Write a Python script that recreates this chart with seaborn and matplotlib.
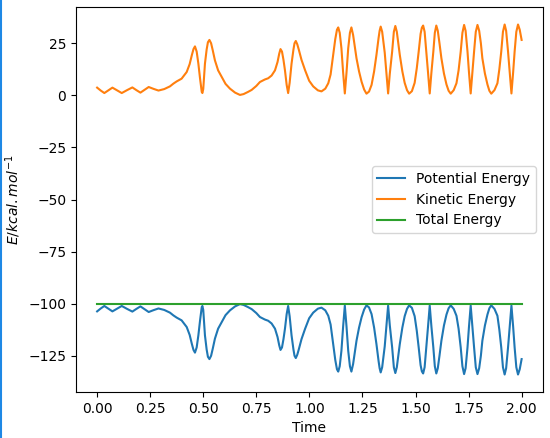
import seaborn as sns
import pandas as pd
import numpy as np
import matplotlib.pyplot as plt
from matplotlib.lines import Line2D

# values
time = [0.000, 0.017, 0.034, 0.053, 0.072, 0.094, 0.116, 0.141, 0.166, 0.185,
        0.204, 0.224, 0.243, 0.266, 0.289, 0.316, 0.343, 0.359, 0.375, 0.398,
        0.422, 0.436, 0.446, 0.454, 0.461, 0.469, 0.477, 0.485, 0.493, 0.496,
        0.500, 0.508, 0.516, 0.522, 0.529, 0.537, 0.545, 0.555, 0.570, 0.587,
        0.605, 0.626, 0.650, 0.673, 0.690, 0.710, 0.728, 0.750, 0.767, 0.790,
        0.806, 0.822, 0.838, 0.850, 0.858, 0.864, 0.871, 0.878, 0.885, 0.893,
        0.900, 0.907, 0.916, 0.925, 0.930, 0.936, 0.943, 0.950, 0.963, 0.980,
        0.999, 1.018, 1.040, 1.057, 1.075, 1.089, 1.100, 1.112, 1.122, 1.130,
        1.136, 1.143, 1.151, 1.159, 1.167, 1.175, 1.183, 1.191, 1.198, 1.206,
        1.214, 1.222, 1.234, 1.246, 1.258, 1.269, 1.281, 1.293, 1.305, 1.316,
        1.326, 1.331, 1.336, 1.343, 1.355, 1.363, 1.371, 1.379, 1.390, 1.398,
        1.405, 1.412, 1.426, 1.438, 1.449, 1.460, 1.470, 1.483, 1.496, 1.506,
        1.515, 1.524, 1.530, 1.536, 1.543, 1.551, 1.559, 1.567, 1.575, 1.584,
        1.591, 1.598, 1.605, 1.613, 1.622, 1.634, 1.646, 1.656, 1.666, 1.680,
        1.693, 1.703, 1.713, 1.721, 1.729, 1.736, 1.745, 1.752, 1.760, 1.768,
        1.776, 1.784, 1.792, 1.800, 1.808, 1.815, 1.827, 1.839, 1.848, 1.857,
        1.872, 1.886, 1.895, 1.904, 1.912, 1.920, 1.927, 1.936, 1.944, 1.952,
        1.960, 1.967, 1.975, 1.983, 1.991, 2.000]

kinetic = [3.7, 2.3, 1.1, 2.4, 3.7, 2.4, 1.1, 2.5, 3.8, 2.5,
           1.3, 2.7, 4.0, 3.1, 2.3, 3.0, 4.3, 5.6, 6.7, 8.0,
           11.2, 15.0, 19.2, 22.2, 23.5, 21.0, 15.2, 8.0, 1.6, 1.1,
           3.0, 15.2, 22.0, 25.5, 26.6, 25.0, 21.5, 16.8, 12.0, 8.8,
           5.5, 3.2, 1.3, 0.2, 0.6, 1.6, 2.6, 4.5, 6.4, 7.6,
           8.2, 9.5, 12.0, 16.0, 20.0, 22.2, 21.0, 17.0, 12.0, 5.0,
           1.1, 6.0, 15.2, 22.0, 25.0, 26.1, 24.5, 22.0, 17.0, 12.0,
           7.0, 4.3, 2.4, 1.9, 3.2, 5.8, 10.0, 19.4, 27.0, 31.5,
           32.6, 30.0, 22.6, 11.0, 0.9, 11.0, 22.6, 30.0, 32.6, 29.0,
           23.5, 17.8, 11.5, 6.5, 2.8, 0.8, 1.8, 5.0, 11.5, 19.4,
           27.5, 31.0, 33.0, 30.5, 20.5, 10.5, 0.9, 10.5, 21.0, 30.5,
           33.3, 30.5, 19.4, 11.5, 6.0, 2.5, 0.8, 2.0, 6.0, 13.0,
           21.0, 29.5, 32.5, 33.5, 30.5, 21.0, 11.0, 0.9, 11.0, 21.0,
           30.0, 33.5, 31.0, 25.0, 17.8, 10.5, 5.2, 2.2, 0.8, 2.5,
           5.8, 12.0, 21.0, 30.0, 33.8, 31.0, 21.0, 11.0, 0.9, 11.0,
           21.0, 30.5, 33.8, 31.0, 25.0, 17.8, 10.5, 5.2, 2.2, 0.8,
           2.5, 5.8, 12.5, 21.0, 30.5, 34.0, 31.0, 21.0, 11.0, 0.9,
           11.0, 21.0, 30.5, 34.0, 31.5, 26.6]

potential = [-103.7, -102.3, -101.1, -102.4, -103.7, -102.4, -101.1, -102.5, -103.8, -102.5,
             -101.3, -102.7, -104.0, -103.1, -102.3, -103.0, -104.3, -105.6, -106.7, -108.0,
             -111.2, -115.0, -119.2, -122.2, -123.5, -121.0, -115.2, -108.0, -101.6, -101.1,
             -103.0, -115.2, -122.0, -125.5, -126.6, -125.0, -121.5, -116.8, -112.0, -108.8,
             -105.5, -103.2, -101.3, -100.2, -100.6, -101.6, -102.6, -104.5, -106.4, -107.6,
             -108.2, -109.5, -112.0, -116.0, -120.0, -122.2, -121.0, -117.0, -112.0, -105.0,
             -101.1, -106.0, -115.2, -122.0, -125.0, -126.1, -124.5, -122.0, -117.0, -112.0,
             -107.0, -104.3, -102.4, -101.9, -103.2, -105.8, -110.0, -119.4, -127.0, -131.5,
             -132.6, -130.0, -122.6, -111.0, -100.9, -111.0, -122.6, -130.0, -132.6, -129.0,
             -123.5, -117.8, -111.5, -106.5, -102.8, -100.8, -101.8, -105.0, -111.5, -119.4,
             -127.5, -131.0, -133.0, -130.5, -120.5, -110.5, -100.9, -110.5, -121.0, -130.5,
             -133.3, -130.5, -119.4, -111.5, -106.0, -102.5, -100.8, -102.0, -106.0, -113.0,
             -121.0, -129.5, -132.5, -133.5, -130.5, -121.0, -111.0, -100.9, -111.0, -121.0,
             -130.0, -133.5, -131.0, -125.0, -117.8, -110.5, -105.2, -102.2, -100.8, -102.5,
             -105.8, -112.0, -121.0, -130.0, -133.8, -131.0, -121.0, -111.0, -100.9, -111.0,
             -121.0, -130.5, -133.8, -131.0, -125.0, -117.8, -110.5, -105.2, -102.2, -100.8,
             -102.5, -105.8, -112.5, -121.0, -130.5, -134.0, -131.0, -121.0, -111.0, -100.9,
             -111.0, -121.0, -130.5, -134.0, -131.5, -126.6]

total = [-100.0] * len(time)

df = pd.DataFrame({'Time': time, 'Potential': potential,
                   'Kinetic': kinetic, 'Total': total})

fig = plt.figure(figsize=(5.5, 4.38), dpi=100)
ax = fig.add_axes([0.138, 0.105, 0.849, 0.879])

sns.lineplot(data=df, x='Time', y='Potential', label='Potential Energy', color='C0', ax=ax)
sns.lineplot(data=df, x='Time', y='Kinetic', label='Kinetic Energy', color='C1', ax=ax)
sns.lineplot(data=df, x='Time', y='Total', label='Total Energy', color='C2', ax=ax)

ax.set_xlabel('Time')
ax.set_ylabel(r'$E/kcal.mol^{-1}$')
ax.set_xticks([0.0, 0.25, 0.5, 0.75, 1.0, 1.25, 1.5, 1.75, 2.0])
ax.set_yticks([-125, -100, -75, -50, -25, 0, 25])
ax.legend(loc='center right')

# thin blue strip on the left edge of the picture
fig.add_artist(Line2D([0.001, 0.001], [0, 1], color='#1e88e5', lw=1.5, transform=fig.transFigure))

fig.savefig('out.png', dpi=100)
